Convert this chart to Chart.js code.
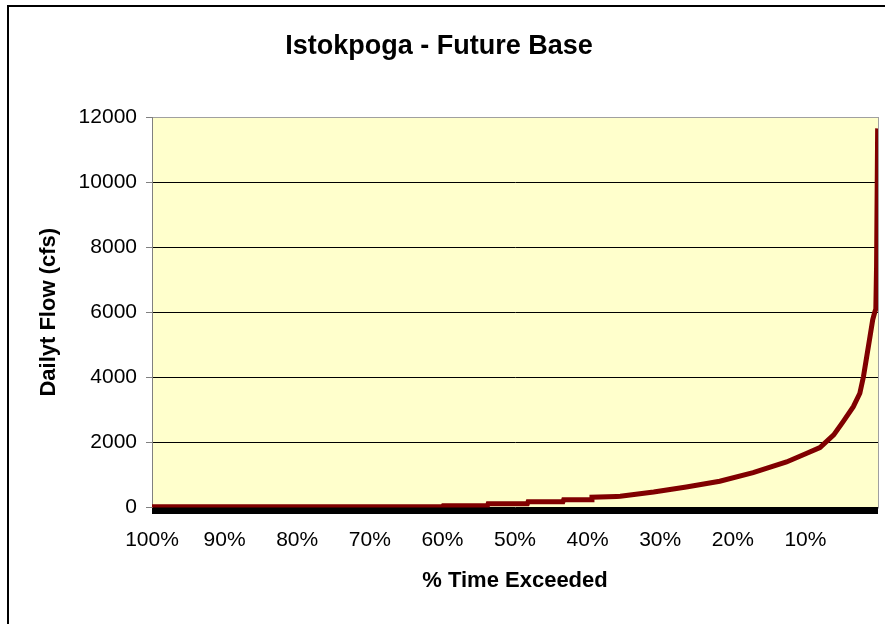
<!DOCTYPE html>
<html>
<head>
<meta charset="utf-8">
<script src="https://cdn.jsdelivr.net/npm/chart.js@4/dist/chart.umd.min.js"></script>
<style>
  html, body { margin: 0; padding: 0; background: #fff; overflow: hidden; }
  canvas { display: block; }
</style>
</head>
<body>
<canvas id="flow-chart" width="885" height="624"></canvas>
<script>
// % of time exceeded and daily flow
const pctExceeded = [100, 60, 59.9, 53.8, 53.7, 48.3, 48.2, 43.4, 43.3, 39.5, 39.4, 36, 35.5,
  30.9, 26.4, 21.8, 17.2, 12.6, 9.8, 8, 6.1, 4.8, 3.4, 2.5, 2.0, 1.55, 1.1, 0.73, 0.45, 0.3, 0.2, 0.05]
const flowCfs = [20, 20, 50, 50, 115, 115, 175, 175, 237, 237, 317, 340, 345,
  477, 630, 806, 1074, 1400, 1668, 1843, 2230, 2640, 3100, 3510, 4025, 4640, 5255, 5770, 6000, 6100, 7400, 11650]
const yTicks = [0, 2000, 4000, 6000, 8000, 10000, 12000]

const FONT = "'Liberation Sans', Arial, sans-serif"

const points = pctExceeded.map((p, i) => ({ x: p, y: flowCfs[i] }))

// white page, frame, yellow plot area and the thick black base line
const excelLook = {
  id: 'excelLook',
  beforeDraw(chart) {
    const { ctx, chartArea: a } = chart
    ctx.save()
    ctx.fillStyle = '#fff'
    ctx.fillRect(0, 0, chart.width, chart.height)
    ctx.strokeStyle = '#000'
    ctx.lineWidth = 2
    ctx.beginPath()
    ctx.moveTo(8, chart.height)
    ctx.lineTo(8, 6)
    ctx.lineTo(chart.width, 6)
    ctx.stroke()
    ctx.fillStyle = '#FFFFCC'
    ctx.fillRect(a.left, a.top, a.right - a.left, a.bottom - a.top)
    ctx.strokeStyle = '#A0A0A0'
    ctx.lineWidth = 1
    ctx.strokeRect(a.left + 0.5, a.top + 0.5, a.right - a.left, a.bottom - a.top)
    ctx.restore()
  },
  afterDatasetsDraw(chart) {
    const { ctx, chartArea: a } = chart
    ctx.save()
    ctx.fillStyle = '#000'
    ctx.fillRect(a.left, a.bottom + 0.5, a.right - a.left, 6)
    ctx.restore()
  }
}

const ctx = document.getElementById('flow-chart').getContext('2d')
new Chart(ctx, {
  type: 'scatter',
  data: {
    datasets: [{
      data: points,
      showLine: true,
      borderColor: '#800000',
      borderWidth: 5,
      pointRadius: 0,
      tension: 0
    }]
  },
  options: {
    responsive: false,
    animation: false,
    devicePixelRatio: 1,
    layout: { padding: { left: 0, right: 7, top: 0, bottom: 0 } },
    plugins: {
      legend: { display: false },
      tooltip: { enabled: false },
      title: {
        display: true,
        text: 'Istokpoga - Future Base',
        color: '#000',
        font: { family: FONT, size: 27, weight: 'bold' },
        padding: { top: 30, bottom: 54.6 }
      }
    },
    scales: {
      x: {
        type: 'linear',
        reverse: true,
        min: 0,
        max: 100,
        afterFit: s => { s.height = 116.5 },
        grid: { display: false, drawTicks: true, tickLength: 20 },
        border: { display: false },
        ticks: {
          stepSize: 10,
          autoSkip: false,
          maxRotation: 0,
          padding: 0,
          color: '#000',
          font: { family: FONT, size: 21 },
          callback: v => v === 0 ? '' : v + '%'
        },
        title: {
          display: true,
          text: '% Time Exceeded',
          color: '#000',
          font: { family: FONT, size: 22, weight: 'bold' },
          padding: { top: 0, bottom: 30 }
        }
      },
      y: {
        min: 0,
        max: 12000,
        afterFit: s => { s.width = 152 },
        afterBuildTicks: s => { s.ticks = yTicks.map(v => ({ value: v })) },
        grid: {
          color: c => c.tick && c.tick.value === 12000 ? '#A0A0A0' : '#000',
          tickColor: '#808080',
          tickLength: 6,
          lineWidth: 1
        },
        border: { color: '#808080', width: 1 },
        ticks: {
          padding: 9,
          color: '#000',
          font: { family: FONT, size: 21 },
          callback: v => String(v)
        },
        title: {
          display: true,
          text: 'Dailyt Flow (cfs)',
          color: '#000',
          font: { family: FONT, size: 22, weight: 'bold' },
          padding: { top: 36, bottom: 0 }
        }
      }
    }
  },
  plugins: [excelLook]
})
</script>
</body>
</html>
